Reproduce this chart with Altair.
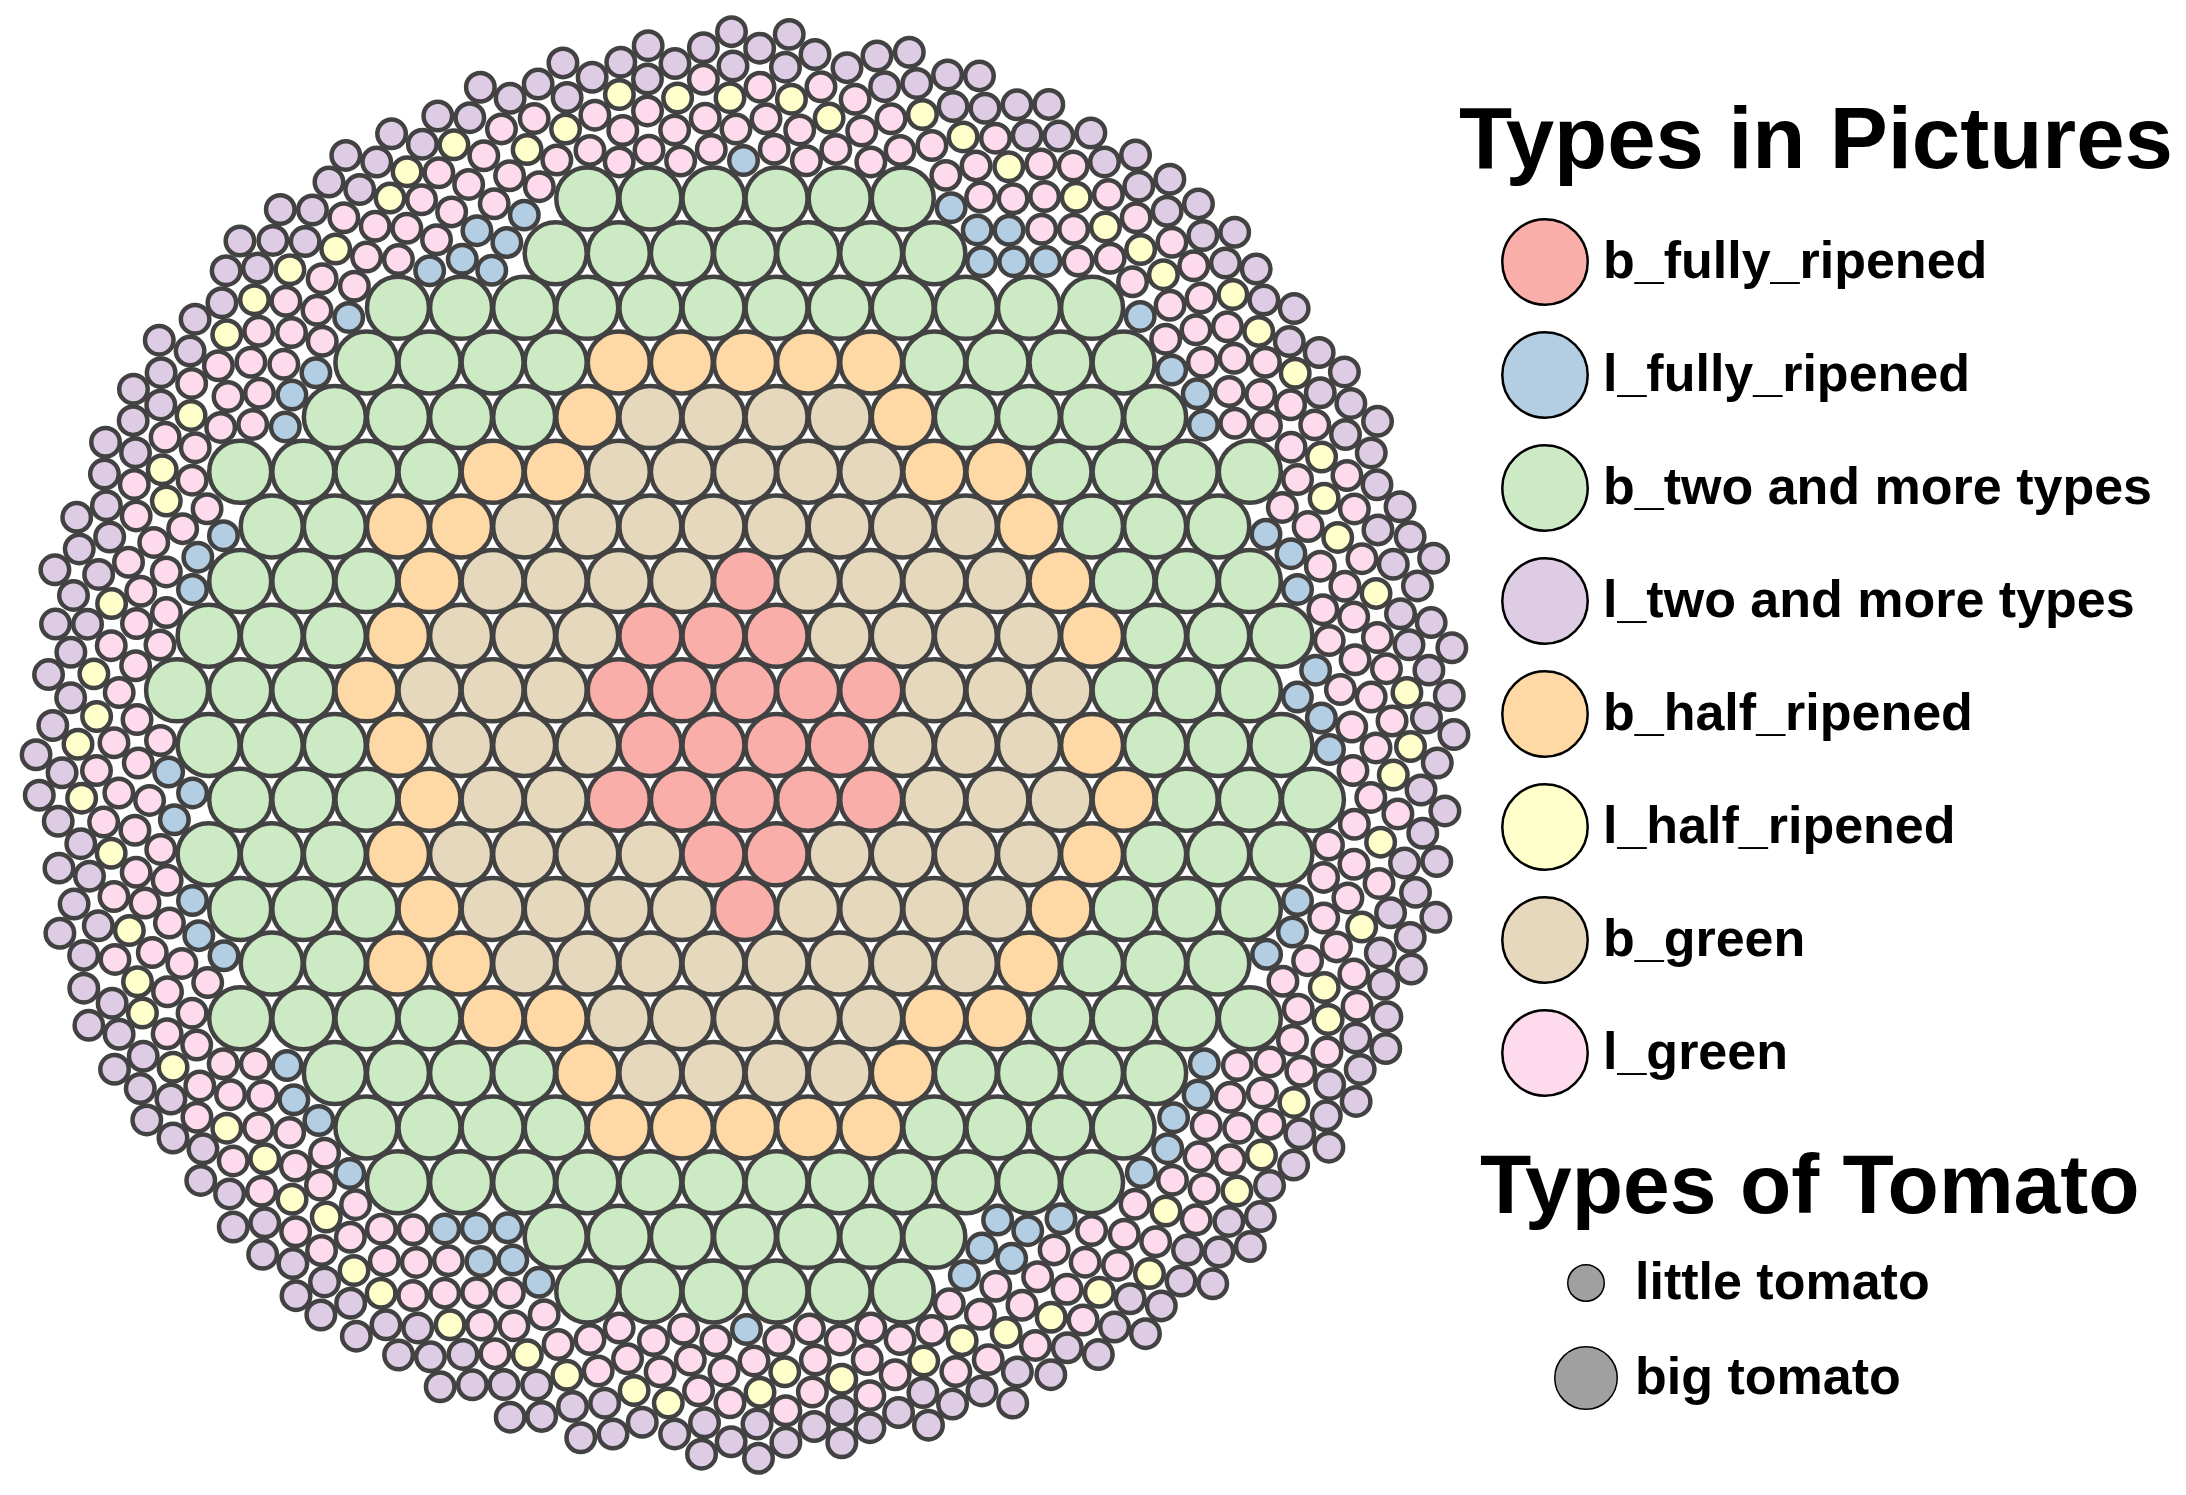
import math
import pandas as pd
import altair as alt

# ---------------- data ----------------
CATEGORIES = ["b_fully_ripened", "l_fully_ripened", "b_two and more types",
              "l_two and more types", "b_half_ripened", "l_half_ripened",
              "b_green", "l_green"]
COLORS = ["#f9aea9", "#b3cde3", "#ccebc5", "#decbe4",
          "#fed9a6", "#ffffcc", "#e5d8bd", "#fddaec"]

BIG_CODE = {"R": "b_fully_ripened", "G": "b_two and more types",
            "O": "b_half_ripened", "T": "b_green"}

# big tomatoes: hexagonal rows (row index, first column, cell categories)
BIG_ROWS = list(range(-10, 11))
BIG_START = [-2.5, -3, -5.5, -6, -6.5, -8, -7.5, -8, -8.5, -9, -8.5,
             -8, -8.5, -8, -7.5, -8, -6.5, -6, -5.5, -3, -2.5]
BIG_CELLS = [
    "GGGGGG",
    "GGGGGGG",
    "GGGGGGGGGGGG",
    "GGGGOOOOOGGGG",
    "GGGGOTTTTOGGGG",
    "GGGGOOTTTTTOOGGGG",
    "GGOOTTTTTTTTOGGG",
    "GGGOTTTTRTTTTOGGG",
    "GGGOTTTRRRTTTTOGGG",
    "GGGOTTTRRRRRTTTGGG",
    "GGGOTTTRRRRTTTOGGG",
    "GGGOTTRRRRRTTTOGGG",
    "GGGOTTTTRRTTTTOGGG",
    "GGGOTTTTRTTTTOGGG",
    "GGOOTTTTTTTTOGGG",
    "GGGGOOTTTTTOOGGGG",
    "GGGGOTTTTOGGGG",
    "GGGGOOOOOGGGG",
    "GGGGGGGGGGGG",
    "GGGGGGG",
    "GGGGGG",
]

# little tomatoes: estimated counts (l_green takes the rest)
LITTLE_PURPLE = 210   # l_two and more types
LITTLE_YELLOW = 72    # l_half_ripened
LITTLE_BLUE = 62      # l_fully_ripened

TOMATO_TYPES = ["little tomato", "big tomato"]

# ---------------- layout (packing) ----------------
S = 63.1                     # px per grid unit (big tomato spacing)
R_BIG_EFF = 32.3
R_SMALL_EFF = 15.7
R_START, R_END, STEP = 520.0, 714.0, 1.5
H = math.sqrt(3) / 2

big_rows = []
for row, start, cells in zip(BIG_ROWS, BIG_START, BIG_CELLS):
    for i, c in enumerate(cells):
        col = start + i
        big_rows.append((col * S, row * S * H, BIG_CODE[c]))

CELL = 50.0
grid = {}


def gkey(x, y):
    return (int(math.floor(x / CELL)), int(math.floor(y / CELL)))


for (x, y, _) in big_rows:
    grid.setdefault(gkey(x, y), []).append((x, y, R_BIG_EFF))

little = []
r = R_START
while r <= R_END:
    n = int(2 * math.pi * r / STEP)
    for k in range(n):
        t = 2 * math.pi * k / n
        x = r * math.cos(t)
        y = r * math.sin(t)
        kx, ky = gkey(x, y)
        ok = True
        for i in (kx - 1, kx, kx + 1):
            if not ok:
                break
            for j in (ky - 1, ky, ky + 1):
                if not ok:
                    break
                for (px, py, pr) in grid.get((i, j), ()):
                    d = R_SMALL_EFF + pr
                    dx = px - x
                    dy = py - y
                    if dx * dx + dy * dy < d * d:
                        ok = False
                        break
        if ok:
            grid.setdefault((kx, ky), []).append((x, y, R_SMALL_EFF))
            little.append((x, y))
    r += STEP

# category assignment for little tomatoes
idx_by_r = sorted(range(len(little)), key=lambda i: -math.hypot(*little[i]))
cat = {}
for i in idx_by_r[:LITTLE_PURPLE]:
    cat[i] = "l_two and more types"
rest = idx_by_r[LITTLE_PURPLE:]
inner = sorted(rest, key=lambda i: math.hypot(*little[i]))
for i in inner[:LITTLE_BLUE]:
    cat[i] = "l_fully_ripened"
remaining = [i for i in rest if i not in cat]
band = remaining[:int(LITTLE_YELLOW * 2.3)]
band = sorted(band, key=lambda i: math.atan2(little[i][1], little[i][0]))
for k in range(LITTLE_YELLOW):
    cat[band[int(k * len(band) / LITTLE_YELLOW)]] = "l_half_ripened"
for i in range(len(little)):
    cat.setdefault(i, "l_green")

records = []
for (x, y, c) in big_rows:
    records.append({"x": x / S, "y": -y / S, "category": c, "rank": 1})
for i, (x, y) in enumerate(little):
    records.append({"x": x / S, "y": -y / S, "category": cat[i], "rank": 0})
df = pd.DataFrame(records)

# hidden legend helper rows (under a big tomato at row -3, col 0)
legend_df = pd.DataFrame({"x": [0.0, 0.0], "y": [3 * H, 3 * H],
                          "rank": [0, 1], "tomato": TOMATO_TYPES})

# ---------------- chart ----------------
W, HGT = 2170, 1479
CX = 737.0
X0 = -CX / S
X1 = X0 + W / S
Y1 = CX / S
Y0 = Y1 - HGT / S

xs = alt.Scale(domain=[X0, X1], nice=False, zero=False)
ys = alt.Scale(domain=[Y0, Y1], nice=False, zero=False)
FONT = "Liberation Sans"

dummy = alt.Chart(legend_df).mark_circle(
    opacity=1, color="#a0a0a0", stroke="black", strokeWidth=2.5
).encode(
    x=alt.X("x:Q", scale=xs, axis=None),
    y=alt.Y("y:Q", scale=ys, axis=None),
    size=alt.Size(
        "rank:Q",
        scale=alt.Scale(domain=[0, 1], range=[1332, 3906]),
        legend=alt.Legend(
            title="Types of Tomato", orient="none", legendX=1472, legendY=1139,
            values=[0, 1],
            labelExpr="datum.value == 0 ? 'little tomato' : 'big tomato'",
            titleFont=FONT, titleFontSize=84, titleFontWeight="bold",
            titleColor="black", titleLimit=3000, titlePadding=26,
            labelFont=FONT, labelFontSize=52, labelFontWeight="bold",
            labelColor="black", labelLimit=3000,
            symbolOffset=74, labelOffset=17, rowPadding=34, padding=0,
            symbolType="circle",
        ),
    ),
)

main = alt.Chart(df).mark_circle(opacity=1).encode(
    x=alt.X("x:Q", scale=xs, axis=None),
    y=alt.Y("y:Q", scale=ys, axis=None),
    color=alt.Color(
        "category:N",
        scale=alt.Scale(domain=CATEGORIES, range=COLORS),
        legend=alt.Legend(
            title="Types in Pictures", orient="none", legendX=1451, legendY=91,
            titleFont=FONT, titleFontSize=87, titleFontWeight="bold",
            titleColor="black", titleLimit=3000, titlePadding=32,
            labelFont=FONT, labelFontSize=52, labelFontWeight="bold",
            labelColor="black", labelLimit=3000,
            symbolType="circle", symbolSize=7300, symbolStrokeWidth=2.5,
            symbolStrokeColor="black",
            symbolOffset=42, labelOffset=14, rowPadding=17, padding=0,
        ),
    ),
    size=alt.Size("rank:Q", scale=alt.Scale(domain=[0, 1], range=[812, 3844]),
                  legend=None),
    stroke=alt.value("#424242"),
    strokeWidth=alt.value(4.5),
)

chart = alt.layer(dummy, main).resolve_scale(size="independent").properties(
    width=W, height=HGT, padding=0, autosize="none"
).configure_view(strokeWidth=0)

chart.save("out.html", embed_options={"renderer": "svg", "actions": False})
